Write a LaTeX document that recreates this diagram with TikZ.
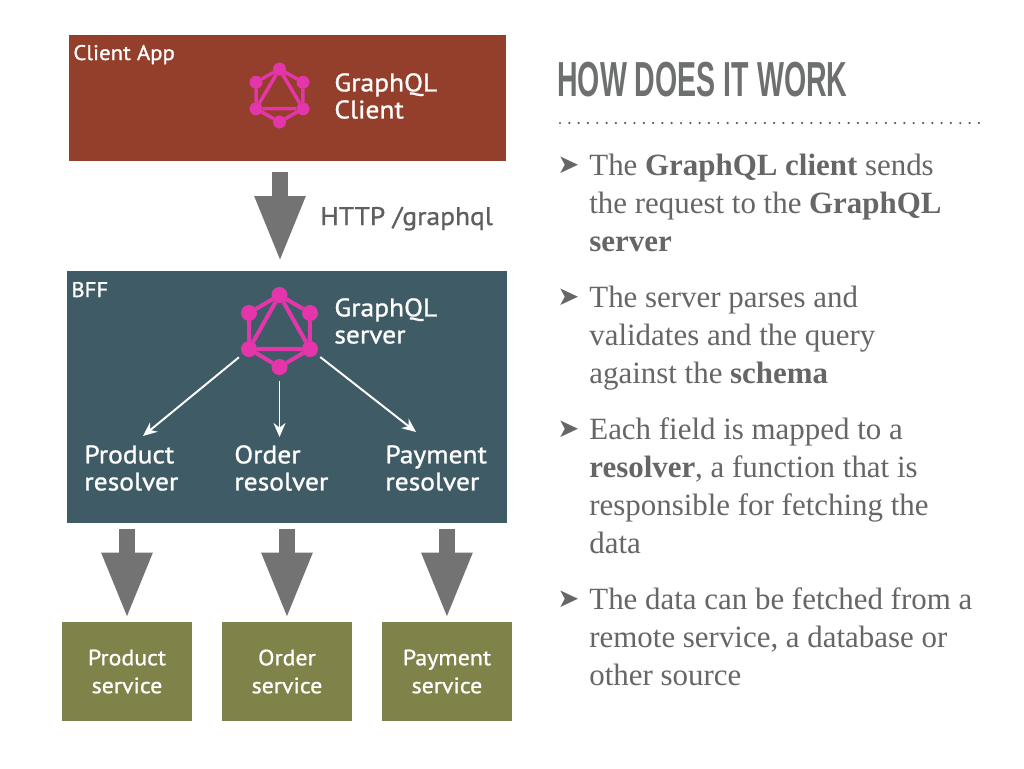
\documentclass[tikz,border=0pt]{standalone}
\usepackage{fontspec}
\setmainfont{Liberation Serif}
\setsansfont[FakeStretch=1.08,FakeBold=1]{PT Sans}
\newfontfamily\titlefont[FakeStretch=0.58]{Liberation Sans}
\newfontfamily\bulletfont{DejaVu Sans}
\usepackage{xcolor}
\usepackage{tikz}
\usetikzlibrary{positioning,arrows.meta}
\definecolor{clientred}{HTML}{933F2C}
\definecolor{bffblue}{HTML}{3F5C66}
\definecolor{svcolive}{HTML}{7F8249}
\definecolor{flowgrey}{HTML}{737373}
\definecolor{gqlpink}{HTML}{E535AB}
\definecolor{bodygrey}{HTML}{666666}
\definecolor{headgrey}{HTML}{6E7070}
\tikzset{
	gqldot/.style={circle,fill=gqlpink,inner sep=0pt,outer sep=0pt},
	gqllogo/.pic={
		\node[gqldot] (-t)  at (0,-1)    {};
		\node[gqldot] (-ur) at (1,-0.5)  {};
		\node[gqldot] (-lr) at (1,0.5)   {};
		\node[gqldot] (-b)  at (0,1)     {};
		\node[gqldot] (-ll) at (-1,0.5)  {};
		\node[gqldot] (-ul) at (-1,-0.5) {};
		\draw[gqlpink] (-t)--(-ur)--(-lr)--(-b)--(-ll)--(-ul)--(-t)--(-ll)--(-lr)--(-t);
	}
}
\tikzstyle{panel} = [inner sep=0pt,anchor=north west]
\tikzstyle{svcbox} = [fill=svcolive,minimum width=2.6cm,minimum height=1.98cm,inner sep=0pt,text=white,align=center,font=\sffamily\fontsize{12.6}{15.9}\selectfont]
\tikzstyle{boxlabel} = [text=white,anchor=west,inner sep=0pt,align=left,font=\sffamily\fontsize{14.5}{15.4}\selectfont]
\tikzstyle{cornerlabel} = [text=white,anchor=base west,inner sep=0pt,font=\sffamily\fontsize{12}{15}\selectfont]
\tikzstyle{para} = [text=bodygrey,anchor=base west,inner sep=0pt,align=left,font=\fontsize{17.6}{21.6}\selectfont]
\tikzstyle{bullet} = [text=bodygrey,anchor=base west,inner sep=0pt,font=\bulletfont\fontsize{15}{17}\selectfont]
\tikzstyle{flow} = [draw=flowgrey,line width=0.33cm,-{Triangle[length=1.34cm,width=0.92cm]}]
\tikzstyle{call} = [draw=white,line width=1.1pt,-{Stealth[length=0.28cm,width=0.24cm]}]
\begin{document}
\begin{tikzpicture}[x=0.02cm,y=-0.02cm,node distance=3.2cm]
	\useasboundingbox (0,0) rectangle (1024,768);
	\fill[white] (0,0) rectangle (1024,768);
	% left column
	\node[panel,fill=clientred,minimum width=8.74cm,minimum height=2.52cm] (client) at (69,35) {};
	\node[panel,fill=bffblue,minimum width=8.8cm,minimum height=5.04cm] (bff) at (67,271) {};
	\node[svcbox] (prodsvc) at (127,671.5) {Product\\service};
	\node[svcbox] (ordersvc)[right of=prodsvc] {Order\\service};
	\node[svcbox] (paysvc)[right of=ordersvc] {Payment\\service};
	\node[cornerlabel] (clientlbl) at (73,60) {Client App};
	\node[cornerlabel] (bfflbl) at (71,297) {BFF};
	\pic[xscale=23.5,yscale=26.5,line width=2pt,gqldot/.append style={minimum size=0.26cm}] (clogo) at (279.5,95.5) {gqllogo};
	\pic[xscale=30.5,yscale=36,line width=2.3pt,gqldot/.append style={minimum size=0.32cm}] (slogo) at (279.5,331) {gqllogo};
	\node[boxlabel] (clienttxt) at (334,96) {GraphQL\\Client};
	\node[boxlabel] (servertxt) at (334,321) {GraphQL\\server};
	\node[boxlabel] (prodres) at (84,468) {Product\\resolver};
	\node[boxlabel] (orderres) at (234,468) {Order\\resolver};
	\node[boxlabel] (payres) at (385,468) {Payment\\resolver};
	\node[text=headgrey!85!black,anchor=base west,inner sep=0pt,font=\sffamily\fontsize{14.5}{16}\selectfont] (httptxt) at (320,225) {HTTP /graphql};
	\coordinate (bfftop) at (280,271);
	\coordinate (clientout) at (280,161);
	\coordinate (prodend) at (143,436);
	\coordinate (orderend) at (279.5,437);
	\coordinate (payend) at (416,432);
	\path
	(clientout) edge[flow,shorten <=0.22cm,shorten >=0.16cm] (bfftop)
	(prodsvc.north |- bff.south) edge[flow,shorten <=0.1cm,shorten >=0.04cm] (prodsvc.north)
	(ordersvc.north |- bff.south) edge[flow,shorten <=0.1cm,shorten >=0.04cm] (ordersvc.north)
	(paysvc.north |- bff.south) edge[flow,shorten <=0.1cm,shorten >=0.04cm] (paysvc.north)
	(slogo-ll) edge[call,shorten <=0.1cm] (prodend)
	(slogo-b) edge[call,shorten <=0.12cm] (orderend)
	(slogo-lr) edge[call,shorten <=0.1cm] (payend);
	% right column
	\node[text=headgrey,anchor=base west,inner sep=0pt,font=\titlefont\bfseries\fontsize{28}{30}\selectfont] (title) at (557,96) {HOW DOES IT WORK};
	\coordinate (ruleL) at (560,123);
	\coordinate (ruleR) at (979,123);
	\draw[headgrey!80!black,line width=1.4pt,line cap=round,dash pattern=on 0pt off 0.1862cm] (ruleL) -- (ruleR);
	\node[bullet] (b1) at (557,173) {➤};
	\node[para] (p1) at (589,251) {The \textbf{GraphQL client} sends\\the request to the \textbf{GraphQL}\\\textbf{server}};
	\node[bullet] (b2) at (557,305) {➤};
	\node[para] (p2) at (589,383) {The server parses and\\validates and the query\\against the \textbf{schema}};
	\node[bullet] (b3) at (557,437) {➤};
	\node[para] (p3) at (589,553) {Each field is mapped to a\\\textbf{resolver}, a function that is\\responsible for fetching the\\data};
	\node[bullet] (b4) at (557,607) {➤};
	\node[para] (p4) at (589,685) {The data can be fetched from a\\remote service, a database or\\other source};
\end{tikzpicture}
\end{document}
